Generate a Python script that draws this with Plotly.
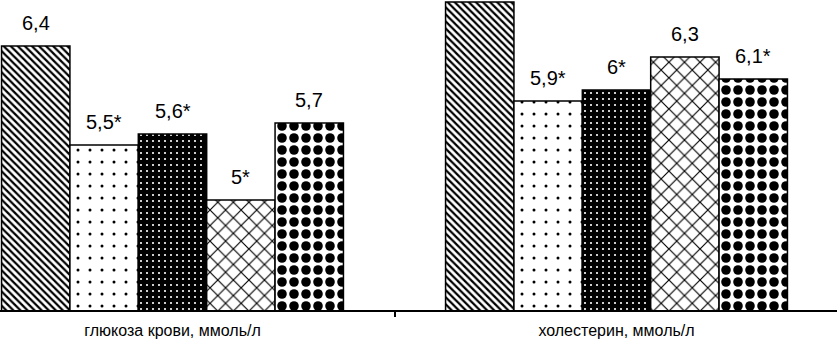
import plotly.graph_objects as go

categories = ["глюкоза крови, ммоль/л", "холестерин, ммоль/л"]
series_names = ["Группа 1", "Группа 2", "Группа 3", "Группа 4", "Группа 5"]
values = [
    [6.4, 6.8],
    [5.5, 5.9],
    [5.6, 6.0],
    [5.0, 6.3],
    [5.7, 6.1],
]
labels = [
    ["6,4", ""],
    ["5,5*", "5,9*"],
    ["5,6*", "6*"],
    ["5*", "6,3"],
    ["5,7", "6,1*"],
]

patterns = [
    dict(shape="\\", fgcolor="black", bgcolor="white", size=5, solidity=0.45, fgopacity=1),
    dict(shape=".", fgcolor="black", bgcolor="white", size=12, solidity=0.05, fgopacity=1),
    dict(shape=".", fgcolor="white", bgcolor="black", size=6, solidity=0.1, fgopacity=1),
    dict(shape="x", fgcolor="black", bgcolor="white", size=11, solidity=0.2, fgopacity=1),
    dict(shape=".", fgcolor="black", bgcolor="white", size=12, solidity=0.5, fgopacity=1),
]

BARGAP = 0.23
n = len(series_names)
bw = (1 - BARGAP) / n

fig = go.Figure()
for i, name in enumerate(series_names):
    fig.add_trace(go.Bar(
        x=categories, y=values[i], name=name,
        marker=dict(color="white", line=dict(color="black", width=1.5),
                    pattern=patterns[i]),
        showlegend=False,
    ))

annotations = []
for i in range(n):
    for j in range(len(categories)):
        if labels[i][j]:
            annotations.append(dict(
                x=j + (i - (n - 1) / 2) * bw, y=values[i][j], xref="x", yref="y",
                text=labels[i][j], showarrow=False, yanchor="bottom", yshift=10,
                font=dict(family="Liberation Sans, Arial", size=20, color="black"),
            ))

fig.update_layout(
    width=837, height=341,
    margin=dict(l=0, r=0, t=0, b=31),
    paper_bgcolor="white", plot_bgcolor="white",
    barmode="group", bargap=BARGAP, bargroupgap=0,
    annotations=annotations,
    xaxis=dict(
        type="category", range=[-0.3885, 1.4966],
        showline=True, linecolor="black", linewidth=1.5,
        ticks="outside", tickson="boundaries", ticklen=5, tickcolor="black", tickwidth=2,
        ticklabelstandoff=5,
        showgrid=False,
        tickfont=dict(family="Liberation Sans, Arial", size=16, color="black"),
    ),
    yaxis=dict(range=[4, 4 + 310 / 110], visible=False, showgrid=False),
)

fig.write_html("out.html", config={"displayModeBar": False},
               post_script="document.body.style.margin='0';document.body.style.padding='0';")
